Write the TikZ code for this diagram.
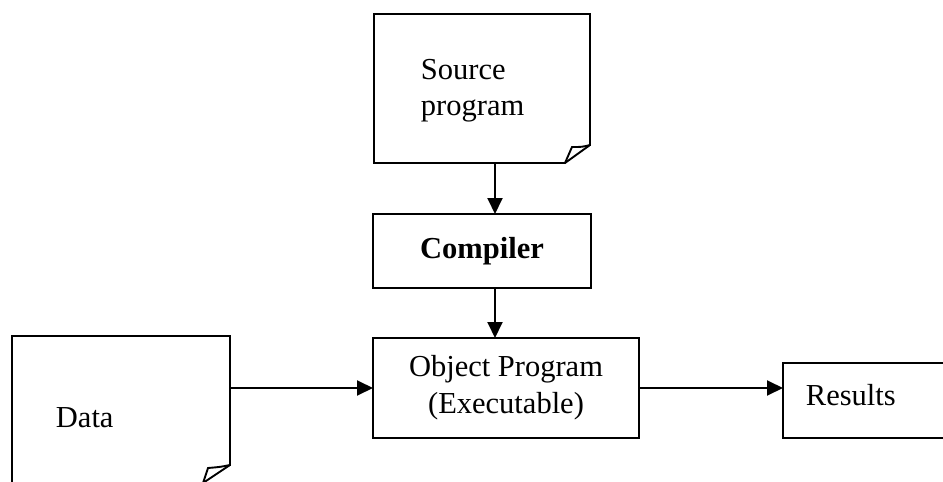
\documentclass[tikz,border=0pt]{standalone}
\usepackage{fontspec}
\setmainfont{Liberation Serif}
\usetikzlibrary{arrows.meta}
\begin{document}
\begin{tikzpicture}[x=1pt,y=-1pt,line width=1.9pt,
  font=\fontsize{30.5}{37}\selectfont,
  frame/.style={inner sep=0pt,outer sep=0pt},
  procbox/.style={frame,draw},
  label/.style={anchor=base west,inner sep=0pt},
  arr/.style={-{Triangle[length=16pt,width=15pt]}}]
  \clip (0,0) rectangle (943,482);

  % document-shaped boxes (frames only, outlines drawn below)
  \node[frame,minimum width=216pt,minimum height=149pt] (src) at (482,88.5) {};
  \node[frame,minimum width=218pt,minimum height=147pt] (data) at (121,409.5) {};

  % process boxes
  \node[procbox,minimum width=218pt,minimum height=74pt] (comp) at (482,251) {\bfseries Compiler};
  \node[procbox,minimum width=266pt,minimum height=100pt,align=center] (obj) at (506,388)
    {Object Program\\(Executable)};
  \node[procbox,minimum width=170pt,minimum height=75pt] (res) at (868,400.5) {};

  % source document outline with folded corner
  \draw (src.north west) -- (src.north east) -- ([yshift=18pt]src.south east)
    .. controls ([xshift=-8pt,yshift=16pt]src.south east) .. ([xshift=-18pt,yshift=16pt]src.south east)
    -- ([xshift=-25pt]src.south east) -- (src.south west) -- cycle;
  \draw ([xshift=-25pt]src.south east) -- ([yshift=18pt]src.south east);

  % data document outline with folded corner
  \draw (data.north west) -- (data.north east) -- ([yshift=18pt]data.south east)
    .. controls ([xshift=-10pt,yshift=16pt]data.south east) .. ([xshift=-22pt,yshift=15pt]data.south east)
    -- ([xshift=-27pt]data.south east) -- (data.south west) -- cycle;
  \draw ([xshift=-27pt]data.south east) -- ([yshift=18pt]data.south east);

  % texts
  \node[label] (srcA) at (420,79) {Source};
  \node[label] (srcB) at (420,115) {program};
  \node[label] (datat) at (55,427) {Data};
  \node[label] (rest) at (805,405) {Results};

  % connectors
  \draw[arr] ([xshift=13pt]src.south) -- ([xshift=13pt]comp.north);
  \draw[arr] ([xshift=13pt]comp.south) -- ([xshift=-11pt]obj.north);
  \draw[arr] (obj.west -| data.east) -- (obj.west);
  \draw[arr] (obj.east) -- (obj.east -| res.west);
\end{tikzpicture}
\end{document}
